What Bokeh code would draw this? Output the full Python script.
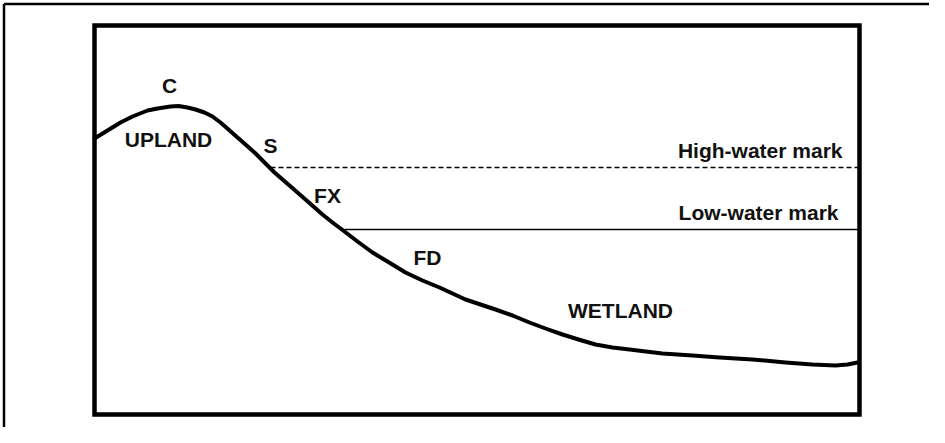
from bokeh.plotting import figure
from bokeh.models import Range1d, ColumnDataSource
from bokeh.core.properties import value
from bokeh.embed import file_html
from bokeh.resources import INLINE

# Profile of the shore (distance along profile, elevation)
distance = [0, 13, 26, 38, 53, 63, 76, 84, 93, 101, 110, 118, 126, 134,
            143, 151, 160, 168, 180, 195, 211, 228, 238, 250, 263, 278,
            293, 311, 328, 345, 358, 371, 386, 401, 418, 435, 451, 468,
            484, 501, 518, 535, 568, 598, 625, 658, 691, 718, 741, 753, 763]
elevation = [276, 284, 292, 298, 304, 306, 308, 308.5, 307, 305, 302, 298, 292, 285,
             277, 270, 262, 254, 242, 229, 215, 200, 192, 183, 173, 162,
             153, 142, 134, 127, 121, 115, 110, 105, 99, 92, 86, 80,
             75, 70, 67, 65, 61, 59, 57, 55, 52, 50, 49, 50, 52]

# Water marks (elevation, start distance)
high_water = 247
high_water_start = 176
low_water = 185
low_water_start = 250

# Diagram extent
x_max = 765
y_max = 389

# Labels
label_text = ["C", "UPLAND", "S", "FX", "FD", "WETLAND"]
label_x = [75, 74, 176, 233, 333, 526]
label_y = [329, 275, 269, 219, 157, 104]

mark_text = ["High-water mark", "Low-water mark"]
mark_x = [748, 744]
mark_y = [264, 202]

W, H = 929, 427
p = figure(width=W, height=H, output_backend="svg", toolbar_location=None,
           x_range=Range1d(-94, -94 + W), y_range=Range1d(-13, -13 + H),
           min_border=0, min_border_left=0, min_border_right=0,
           min_border_top=0, min_border_bottom=0)
p.axis.visible = False
p.grid.visible = False
p.outline_line_color = None
p.background_fill_color = "white"
p.border_fill_color = "white"

# outer frame (clipped at right and bottom)
p.line([-90.5, -90.5 + W], [410.5, 410.5], line_color="black", line_width=2.5)
p.line([-90.5, -90.5], [410.5, -20], line_color="black", line_width=2.5)

# inner frame
p.quad(left=[0], right=[x_max], bottom=[0], top=[y_max], fill_color=None,
       line_color="black", line_width=4.5, line_join="miter")

# water marks
p.line([high_water_start, x_max], [high_water, high_water], line_color="black",
       line_width=1.5, line_dash="5 3")
p.line([low_water_start, x_max], [low_water, low_water], line_color="black",
       line_width=1.5)

# profile
p.line(distance, elevation, line_color="black", line_width=4,
       line_join="round", line_cap="round")

font = value("Liberation Sans")
src = ColumnDataSource(dict(x=label_x, y=label_y, t=label_text))
p.text("x", "y", text="t", source=src, text_font=font, text_font_size="21px",
       text_font_style="bold", text_align="center", text_baseline="middle",
       text_color="#111111")
src2 = ColumnDataSource(dict(x=mark_x, y=mark_y, t=mark_text))
p.text("x", "y", text="t", source=src2, text_font=font, text_font_size="21px",
       text_font_style="bold", text_align="right", text_baseline="middle",
       text_color="#111111")

open("out.html", "w").write(file_html(p, INLINE))
